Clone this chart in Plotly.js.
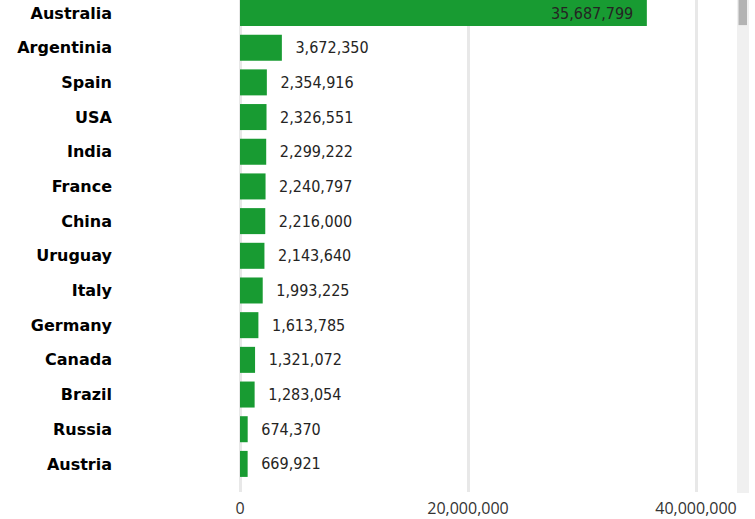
<!DOCTYPE html>
<html>
<head>
<meta charset="utf-8">
<script src="https://cdn.plot.ly/plotly-3.0.1.min.js"></script>
<style>
html,body{margin:0;padding:0;background:#fff;}
#chart{width:755px;height:519px;}
</style>
</head>
<body>
<div id="chart"></div>
<script>
const countries = ["Australia","Argentinia","Spain","USA","India","France","China","Uruguay","Italy","Germany","Canada","Brazil","Russia","Austria"];
const values = [35687799,3672350,2354916,2326551,2299222,2240797,2216000,2143640,1993225,1613785,1321072,1283054,674370,669921];
const xTickVals = [0,20000000,40000000];
const xTickText = ["0","20,000,000","40,000,000"];

const pad = "\u00a0\u00a0\u200a";
const fmt = v => v.toLocaleString("en-US");
const texts = values.map((v,i)=> i===0 ? fmt(v)+pad : pad+fmt(v));
const positions = values.map((v,i)=> i===0 ? "inside" : "outside");

const labelFont = {family: "DejaVu Sans Condensed, DejaVu Sans", size: 16, color: "#252423"};

const trace = {
  type: "bar",
  orientation: "h",
  x: values,
  y: countries,
  marker: {color: "#189b32"},
  text: texts,
  textposition: positions,
  insidetextanchor: "end",
  constraintext: "none",
  cliponaxis: false,
  textfont: labelFont,
  insidetextfont: labelFont,
  outsidetextfont: labelFont,
  hoverinfo: "none"
};

const layout = {
  width: 755, height: 519,
  margin: {l: 240, r: 20, t: 0, b: 27},
  paper_bgcolor: "#ffffff",
  plot_bgcolor: "#ffffff",
  bargap: 0.25,
  showlegend: false,
  xaxis: {
    range: [0, 43420000],
    tickvals: xTickVals,
    ticktext: xTickText,
    showgrid: true,
    gridcolor: "#e8e8e8",
    gridwidth: 3,
    zeroline: true,
    zerolinecolor: "#e8e8e8",
    zerolinewidth: 3,
    showline: false,
    ticks: "",
    ticklabelstandoff: 5,
    tickfont: {family: "Open Sans", size: 16, color: "#333333"},
    fixedrange: true
  },
  yaxis: {
    type: "category",
    range: [13.81, -0.375],
    showgrid: false,
    zeroline: false,
    showline: false,
    ticks: "",
    ticklabelstandoff: 127,
    tickfont: {family: "DejaVu Sans", size: 16, color: "#000000", weight: "bold"},
    fixedrange: true
  },
  shapes: [
    {type: "rect", xref: "paper", yref: "paper", x0: 1.004, x1: 1.0283, y0: -0.002, y1: 1.01, fillcolor: "#f0f0f0", line: {width: 0}, layer: "above"},
    {type: "rect", xref: "paper", yref: "paper", x0: 1.0071, x1: 1.0242, y0: 0.949, y1: 1.01, fillcolor: "#b3b3b3", line: {width: 0}, layer: "above"}
  ]
};

Plotly.newPlot("chart", [trace], layout, {displayModeBar: false, staticPlot: true});
</script>
</body>
</html>
